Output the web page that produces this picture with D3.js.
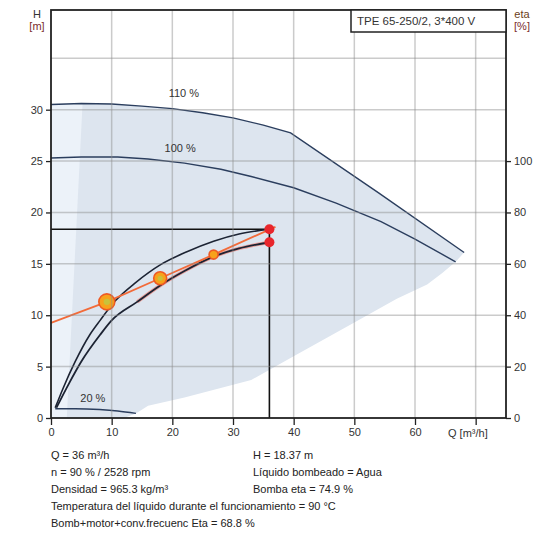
<!DOCTYPE html>
<html>
<head>
<meta charset="utf-8">
<script src="https://cdn.jsdelivr.net/npm/d3@7"></script>
<style>
    body { margin: 0; background: #fff; }
    text { font-family: "Liberation Sans", Arial, sans-serif; }
</style>
</head>
<body>
<div id="drawhere"></div>
<script>
// pump curves, Q [m3/h] vs H [m]
var curve110 = [[0,30.5],[5,30.6],[10,30.55],[15,30.35],[20,30.1],[25,29.7],[30,29.2],[35,28.5],[39.5,27.75],[54,21.9],[68.1,16.1]];
var curve100 = [[0,25.3],[5,25.4],[11,25.4],[16,25.2],[22,24.8],[28,24.2],[33,23.5],[40,22.4],[47,20.9],[54.4,19.1],[60,17.4],[66.7,15.2]];
var curve20 = [[0.7,0.9],[4,0.9],[8,0.82],[11,0.68],[14,0.45]];
var curveUpper = [[0.7,1.0],[2,2.9],[4,5.5],[6.4,8.1],[8.1,9.5],[10.6,11.4],[14,13.2],[18,14.9],[22.5,16.2],[26.8,17.2],[31,17.9],[36,18.37]];
var curveLower = [[0.9,1.0],[3,3.4],[5,5.5],[8.1,8.1],[10,9.5],[14.2,11.3],[18,12.9],[22,14.3],[26.8,15.7],[31,16.5],[36,17.1]];
var controlLine = [[0,9.25],[9.2,11.3],[18,13.6],[26.8,15.9],[37,18.6]];
var controlPoints = [[9.2,11.3],[18,13.6],[26.8,15.9]];
var dutyPoints = [[36,18.37],[36,17.1]];
var dutyQ = 36, dutyH = 18.37;

// operating area outline (lower side)
var areaLower = [[68.1,16.1],[66.7,15.2],[64.5,14.1],[62,13.0],[57,11.6],[50,9.3],[40,6.0],[33,3.7],[22,2.0],[16,1.2],[14,0.45],[12,0],[0,0]];
var minFlowStrip = [[0,30.5],[5.2,30.6],[2.6,0],[0,0]];

// ticks
var qTicks = [0,10,20,30,40,50,60,70];
var qGrid = [10,20,30,40,50,60,70];
var hTicks = [0,5,10,15,20,25,30];
var hGrid = [5,10,15,20,25,30,35];
var etaTicks = [0,20,40,60,80,100];

var infoLeft = ["Q = 36 m³/h", "n = 90 % / 2528 rpm", "Densidad = 965.3 kg/m³",
    "Temperatura del líquido durante el funcionamiento = 90 °C", "Bomb+motor+conv.frecuenc Eta = 68.8 %"];
var infoRight = ["H = 18.37 m", "Líquido bombeado = Agua", "Bomba eta = 74.9 %"];

function drawChart() {
    var svg = d3.select("#drawhere").append("svg")
        .attr("width", 543)
        .attr("height", 535);

    var x = d3.scaleLinear().domain([0,75]).range([51,506]);
    var y = d3.scaleLinear().domain([0,39.7]).range([418,10]);
    var yEta = d3.scaleLinear().domain([0,39.7*4]).range([418,10]);

    var line = d3.line().x(function(d){ return x(d[0]); }).y(function(d){ return y(d[1]); });
    var smooth = d3.line().x(function(d){ return x(d[0]); }).y(function(d){ return y(d[1]); })
        .curve(d3.curveMonotoneX);

    //operating area
    svg.append("path")
        .attr("d", line(curve110.concat(areaLower)) + "Z")
        .attr("fill", "#dde5ef");
    svg.append("path")
        .attr("d", line(minFlowStrip) + "Z")
        .attr("fill", "#ecf2f9");

    //speed curves
    [curve110, curve100].forEach(function(c){
        svg.append("path").attr("d", line(c))
            .attr("fill", "none").attr("stroke", "#2b3e5e").attr("stroke-width", 1.4);
    });
    svg.append("path").attr("d", smooth(curve20))
        .attr("fill", "none").attr("stroke", "#2b3e5e").attr("stroke-width", 1.4);

    //duty lines
    svg.append("path")
        .attr("d", line([[0,dutyH],[dutyQ,dutyH],[dutyQ,0]]))
        .attr("fill", "none").attr("stroke", "#111").attr("stroke-width", 1.6);

    //black curves
    svg.append("path").attr("d", smooth(curveLower.slice(5)))
        .attr("fill", "none").attr("stroke", "#f07060").attr("stroke-width", 3.5).attr("opacity", 0.6);
    svg.append("path").attr("d", smooth(curveUpper))
        .attr("fill", "none").attr("stroke", "#1c2333").attr("stroke-width", 1.6);
    svg.append("path").attr("d", smooth(curveLower))
        .attr("fill", "none").attr("stroke", "#1c2333").attr("stroke-width", 1.8);

    //control line
    svg.append("path").attr("d", line(controlLine))
        .attr("fill", "none").attr("stroke", "#f26b3a").attr("stroke-width", 1.8);

    var radius = [8, 6.5, 4.5];
    svg.selectAll(".cp").data(controlPoints).enter().append("circle")
        .attr("cx", function(d){ return x(d[0]); })
        .attr("cy", function(d){ return y(d[1]); })
        .attr("r", function(d, i){ return radius[i]; })
        .attr("fill", "#f7a21b").attr("stroke", "#ee5a24").attr("stroke-width", 1.6);
    svg.selectAll(".cpi").data(controlPoints.slice(0,2)).enter().append("circle")
        .attr("cx", function(d){ return x(d[0]); })
        .attr("cy", function(d){ return y(d[1]); })
        .attr("r", function(d, i){ return radius[i] * 0.4; })
        .attr("fill", "#c9c23a");

    svg.selectAll(".dp").data(dutyPoints).enter().append("circle")
        .attr("cx", function(d){ return x(d[0]); })
        .attr("cy", function(d){ return y(d[1]); })
        .attr("r", 5)
        .attr("fill", "#e8262c");

    //grid, drawn over the curves, semi-transparent like the original
    var grid = svg.append("g");
    qGrid.forEach(function(q){
        grid.append("line")
            .attr("x1", x(q)).attr("x2", x(q))
            .attr("y1", y(0)).attr("y2", y(39.7))
            .attr("stroke", "rgb(140,140,140)").attr("stroke-opacity", 0.45).attr("stroke-width", 1.5);
    });
    hGrid.forEach(function(h){
        grid.append("line")
            .attr("x1", x(0)).attr("x2", x(75))
            .attr("y1", y(h)).attr("y2", y(h))
            .attr("stroke", "rgb(140,140,140)").attr("stroke-opacity", 0.45).attr("stroke-width", 1.5);
    });

    //curve labels
    svg.append("text").attr("x", x(21.9)).attr("y", y(31.2)).attr("text-anchor", "middle")
        .attr("font-size", 11).attr("fill", "#333").text("110 %");
    svg.append("text").attr("x", x(21.3)).attr("y", y(25.9)).attr("text-anchor", "middle")
        .attr("font-size", 11).attr("fill", "#333").text("100 %");
    svg.append("text").attr("x", x(6.9)).attr("y", y(1.55)).attr("text-anchor", "middle")
        .attr("font-size", 11).attr("fill", "#333").text("20 %");

    //frame
    svg.append("rect")
        .attr("x", x(0)).attr("y", y(39.7))
        .attr("width", x(75) - x(0)).attr("height", y(0) - y(39.7))
        .attr("fill", "none").attr("stroke", "#222").attr("stroke-width", 1.8);

    //axes
    svg.append("g").attr("transform", "translate(" + x(0) + ",0)")
        .call(d3.axisLeft(y).tickValues(hTicks).tickSize(5).tickSizeOuter(0))
        .call(function(g){ g.select(".domain").remove(); });
    svg.append("g").attr("transform", "translate(0," + y(0) + ")")
        .call(d3.axisBottom(x).tickValues(qTicks).tickSize(7).tickSizeOuter(0)
            .tickFormat(function(d){ return d == 70 ? "" : d; }))
        .call(function(g){ g.select(".domain").remove(); });
    svg.append("g").attr("transform", "translate(" + x(75) + ",0)")
        .call(d3.axisRight(yEta).tickValues(etaTicks).tickSize(5).tickSizeOuter(0))
        .call(function(g){ g.select(".domain").remove(); });
    svg.selectAll(".tick line").attr("stroke", "#222").attr("stroke-width", 1.3);
    svg.selectAll(".tick text").attr("font-size", 11).attr("fill", "#333")
        .attr("font-family", "Liberation Sans, Arial, sans-serif");

    svg.append("text").attr("x", 448).attr("y", 437).attr("font-size", 11).attr("fill", "#333")
        .text("Q [m³/h]");

    //axis titles
    svg.append("text").attr("x", 37).attr("y", 18).attr("text-anchor", "middle")
        .attr("font-size", 11).attr("fill", "#333").text("H");
    svg.append("text").attr("x", 37).attr("y", 30).attr("text-anchor", "middle")
        .attr("font-size", 11).attr("fill", "#7b2d2d").text("[m]");
    svg.append("text").attr("x", 522).attr("y", 18).attr("text-anchor", "middle")
        .attr("font-size", 11).attr("fill", "#6b4020").text("eta");
    svg.append("text").attr("x", 522).attr("y", 30).attr("text-anchor", "middle")
        .attr("font-size", 11).attr("fill", "#7b2d2d").text("[%]");

    //title box
    svg.append("rect").attr("x", 351).attr("y", 10).attr("width", 155).attr("height", 22)
        .attr("fill", "#fff").attr("stroke", "#222").attr("stroke-width", 1.5);
    svg.append("text").attr("x", 357).attr("y", 25).attr("font-size", 11.5).attr("fill", "#333")
        .text("TPE 65-250/2, 3*400 V");

    //info text
    svg.selectAll(".il").data(infoLeft).enter().append("text")
        .attr("x", 51).attr("y", function(d, i){ return 459 + i * 17; })
        .attr("font-size", 11).attr("fill", "#222").text(function(d){ return d; });
    svg.selectAll(".ir").data(infoRight).enter().append("text")
        .attr("x", 253).attr("y", function(d, i){ return 459 + i * 17; })
        .attr("font-size", 11).attr("fill", "#222").text(function(d){ return d; });
}

drawChart();
</script>
</body>
</html>
